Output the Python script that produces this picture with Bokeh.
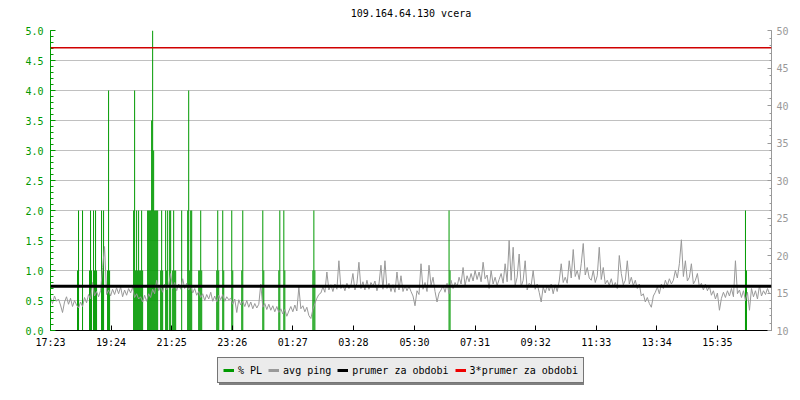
from bokeh.plotting import figure
from bokeh.layouts import column
from bokeh.models import (Range1d, LinearAxis, FixedTicker, Span, Legend, Label,
                          LegendItem, ColumnDataSource, NumeralTickFormatter)
from bokeh.embed import file_html
from bokeh.resources import INLINE

TITLE = "109.164.64.130 vcera"
START_TIME = "17:23"
X_TICK_LABELS = ["17:23", "19:24", "21:25", "23:26", "01:27", "03:28",
                 "05:30", "07:31", "09:32", "11:33", "13:34", "15:35"]
LEGEND_LABELS = ["% PL", "avg ping", "prumer za obdobi", "3*prumer za obdobi"]

# avg ping in ms, one value every 4 minutes from 17:23 (right axis), one row per hour
PING_STEP_MIN = 4
PING_MS = [
    14.4, 13.6, 14.6, 13.9, 14.2, 13.4, 12.4, 13.8, 14.5, 13.5, 14.3, 13.2, 14.0, 13.4, 13.0,
    13.8, 13.2, 14.4, 13.7, 14.8, 14.2, 16.4, 14.6, 15.2, 14.5, 15.3, 18.4, 21.2, 14.8, 15.4,
    14.6, 15.5, 14.8, 15.7, 14.9, 15.8, 14.5, 15.4, 14.7, 15.6, 15.0, 15.8, 14.4, 14.9, 14.2,
    14.5, 13.8, 14.7, 13.9, 14.9, 14.4, 15.5, 14.9, 16.7, 15.3, 15.9, 15.1, 16.2, 15.4, 16.1,
    17.6, 15.6, 16.4, 15.3, 16.2, 15.5, 16.9, 15.6, 16.3, 15.4, 16.0, 15.0, 15.6, 14.7, 15.2,
    14.4, 14.9, 14.0, 14.8, 14.2, 15.1, 13.9, 14.6, 13.8, 14.7, 14.1, 14.8, 13.9, 14.5, 14.1,
    14.3, 13.5, 14.2, 12.4, 14.1, 13.4, 13.9, 13.2, 14.0, 13.1, 13.8, 12.9, 13.6, 13.0, 13.5,
    16.2, 13.1, 13.6, 12.8, 13.5, 12.7, 13.3, 12.5, 13.2, 12.4, 12.9, 12.2, 12.8, 11.9, 12.6,
    13.2, 12.5, 13.4, 12.6, 15.8, 12.9, 13.3, 12.5, 13.1, 12.0, 11.6, 12.8, 13.6, 14.3, 14.8,
    15.0, 15.8, 15.1, 17.8, 15.4, 16.1, 15.2, 16.2, 15.5, 19.3, 15.6, 16.1, 15.3, 16.3, 15.6,
    16.0, 17.6, 15.4, 16.3, 19.1, 15.6, 16.5, 15.4, 16.7, 15.5, 16.4, 15.9, 16.6, 15.3, 16.2,
    18.7, 15.5, 19.3, 15.6, 16.3, 15.2, 16.1, 15.1, 17.8, 15.4, 17.3, 15.2, 16.0, 15.3, 15.9,
    15.2, 14.6, 13.3, 15.3, 14.8, 18.9, 15.5, 16.4, 15.2, 18.7, 16.0, 17.1, 15.2, 13.8, 15.0,
    15.4, 16.0, 15.1, 16.3, 14.9, 16.7, 15.6, 16.4, 15.8, 17.1, 16.2, 18.4, 16.0, 17.3, 16.5,
    17.6, 16.6, 18.0, 16.8, 17.8, 16.5, 19.1, 16.9, 17.4, 15.6, 18.0, 16.2, 17.1, 16.0, 16.8,
    17.6, 16.3, 18.9, 16.5, 22.0, 16.7, 21.1, 16.0, 17.1, 20.2, 15.8, 16.7, 19.3, 15.4, 16.3,
    16.0, 18.0, 15.5, 16.2, 15.1, 13.8, 15.8, 15.0, 16.0, 15.3, 16.2, 14.9, 16.1, 15.2, 16.6,
    18.9, 16.4, 17.1, 16.3, 19.3, 17.0, 20.8, 17.2, 18.0, 16.8, 18.9, 21.6, 17.4, 18.4, 17.0,
    16.7, 18.0, 16.4, 17.3, 21.1, 16.8, 18.4, 16.2, 16.7, 16.0, 16.9, 15.8, 16.4, 15.6, 20.0,
    17.6, 16.1, 16.7, 19.3, 16.2, 17.1, 16.0, 16.7, 15.6, 16.2, 14.6, 14.9, 13.8, 14.4, 13.6,
    13.1, 14.6, 15.1, 15.8, 14.9, 16.2, 15.6, 16.7, 16.0, 16.9, 16.2, 16.7, 18.0, 17.0, 18.9,
    22.1, 17.2, 19.3, 16.6, 17.1, 18.9, 16.2, 16.7, 17.6, 15.8, 16.3, 15.4, 16.2, 15.3, 15.9,
    14.7, 15.3, 14.2, 15.0, 12.7, 14.3, 15.1, 14.4, 15.3, 14.6, 15.6, 14.5, 19.3, 14.9, 15.4,
    14.4, 15.3, 14.0, 15.1, 12.7, 15.6, 14.5, 15.3, 14.2, 16.0, 14.6, 15.3, 14.8, 15.6, 14.9,
]

# packet loss samples: minutes after 17:23 and % PL (left axis)
PL_STEP_MIN = 2
PL_MIN = [54, 56, 64, 78, 80, 82, 86, 88, 90, 92, 102, 104, 106, 114, 116, 118,
          166, 168, 170, 172, 174, 176, 178, 180, 182, 184,
          194, 196, 198, 200, 202, 204, 206, 208, 210, 212, 214,
          220, 222, 224, 230, 232, 234, 238, 240, 244, 246, 248, 250, 262,
          274, 276, 278, 280, 282, 296, 298, 300, 302, 332, 334, 336, 344, 346,
          362, 364, 382, 384, 424, 426, 456, 458, 466, 468, 524, 526, 528,
          796, 798, 1388, 1390]
PL_VAL = [1, 2, 2, 1, 2, 1, 2, 1, 2, 1, 2, 1, 2, 1, 4, 1,
          2, 4, 1, 2, 1, 2, 1, 1, 2, 1,
          2, 2, 2, 2, 3.5, 5, 3, 2, 2, 2, 2,
          1, 2, 1, 2, 1, 2, 2, 2, 1, 2, 1, 1, 2,
          2, 4, 1, 2, 2, 1, 1, 2, 1, 1, 2, 1, 2, 1,
          2, 1, 1, 2, 2, 1, 1, 2, 2, 1, 1, 2, 1,
          2, 1, 2, 1]

PRUMER_MS = 15.9          # mean avg ping over the period
PL_RANGE = (0, 5)
PING_RANGE = (10, 50)
PERIOD_MIN = 1440

GREEN = "#009900"
GRAY = "#999999"
RED = "#d00000"
FONT = "DejaVu Sans Mono"


def to_min(s):
    h, m = map(int, s.split(":"))
    h0, m0 = map(int, START_TIME.split(":"))
    return (h * 60 + m - (h0 * 60 + m0)) % 1440


x_ticks = [to_min(s) for s in X_TICK_LABELS]


def strip(height):
    f = figure(width=792, height=height, output_backend="svg", toolbar_location=None,
               x_range=Range1d(0, 1), y_range=Range1d(0, 1), min_border=0,
               x_axis_type=None, y_axis_type=None,
               background_fill_color="white", border_fill_color="white")
    f.outline_line_color = None
    f.grid.visible = False
    return f


# title strip (its frame is aligned with the chart frame)
tf = strip(20)
tf.add_layout(Label(x=0.5, y=0.35, text=TITLE, text_align="center",
                    text_baseline="middle", text_font=FONT,
                    text_font_size="10px", text_color="black"))

p = figure(frame_width=721, frame_height=300, output_backend="svg",
           toolbar_location=None, x_range=Range1d(0, PERIOD_MIN),
           y_range=Range1d(*PL_RANGE), min_border_left=50,
           min_border_right=21, min_border_top=10, min_border_bottom=24,
           background_fill_color="white", border_fill_color="white")
p.outline_line_color = None
p.extra_y_ranges = {"ping": Range1d(*PING_RANGE)}

# axes
xa = p.xaxis[0]
xa.ticker = FixedTicker(ticks=x_ticks, minor_ticks=[])
xa.major_label_overrides = {t: l for t, l in zip(x_ticks, X_TICK_LABELS)}
xa.major_tick_in = 5
xa.major_tick_out = 0
xa.minor_tick_in = 0
xa.minor_tick_out = 0
xa.axis_line_color = "black"
xa.major_tick_line_color = "black"
xa.major_label_text_font = FONT
xa.major_label_text_font_size = "10px"
xa.major_label_text_color = "black"
xa.major_label_standoff = 6

ya = p.yaxis[0]
ya.ticker = FixedTicker(ticks=[i * 0.5 for i in range(11)],
                        minor_ticks=[i * 0.1 for i in range(51)])
ya.formatter = NumeralTickFormatter(format="0.0")
ya.axis_line_color = GREEN
ya.major_tick_line_color = GREEN
ya.minor_tick_line_color = GREEN
ya.major_label_text_color = GREEN
ya.major_tick_in = 5
ya.major_tick_out = 0
ya.minor_tick_in = 3
ya.minor_tick_out = 0
ya.major_label_text_font = FONT
ya.major_label_text_font_size = "10px"
ya.major_label_standoff = 7

ra = LinearAxis(y_range_name="ping",
                ticker=FixedTicker(ticks=list(range(10, 51, 5)),
                                   minor_ticks=list(range(10, 51))))
ra.axis_line_color = GRAY
ra.major_tick_line_color = GRAY
ra.minor_tick_line_color = GRAY
ra.major_label_text_color = GRAY
ra.major_tick_in = 4
ra.major_tick_out = 0
ra.minor_tick_in = 2
ra.minor_tick_out = 0
ra.major_label_text_font = FONT
ra.major_label_text_font_size = "10px"
ra.major_label_standoff = 5
p.add_layout(ra, "right")

p.xgrid.visible = False
p.ygrid.grid_line_color = "#c0c0c0"
p.ygrid.grid_line_width = 1

# data
pl_src = ColumnDataSource(dict(x=PL_MIN, top=PL_VAL))
p.vbar(x="x", top="top", bottom=0, width=PL_STEP_MIN, source=pl_src,
       fill_color=GREEN, line_color=None)

ping_src = ColumnDataSource(dict(x=[i * PING_STEP_MIN for i in range(len(PING_MS))],
                                 y=PING_MS))
p.line(x="x", y="y", source=ping_src, line_color=GRAY, line_width=1,
       y_range_name="ping")

p.add_layout(Span(location=PRUMER_MS, dimension="width", y_range_name="ping",
                  line_color="black", line_width=3))
p.add_layout(Span(location=3 * PRUMER_MS, dimension="width", y_range_name="ping",
                  line_color=RED, line_width=1.3))

# legend strip below the chart
lf = strip(38)
nan = float("nan")
colors = [GREEN, GRAY, "black", "#ee0000"]
swatches = [lf.line([nan], [nan], line_color=c, line_width=3) for c in colors]
shadow_swatch = lf.line([nan], [nan], line_alpha=0)

LEG_X, LEG_Y = 167, 9
common = dict(orientation="horizontal", glyph_height=14, label_height=14,
              padding=5, margin=0, background_fill_alpha=1.0, border_line_width=1)

shadow = Legend(items=[LegendItem(label=" ", renderers=[shadow_swatch])],
                location=(LEG_X + 2, LEG_Y - 2), glyph_width=333,
                label_standoff=0, label_text_font_size="1px",
                background_fill_color="#808080", border_line_color="#808080",
                **common)
legend = Legend(items=[LegendItem(label=l, renderers=[r])
                       for l, r in zip(LEGEND_LABELS, swatches)],
                location=(LEG_X, LEG_Y), glyph_width=11, label_standoff=4,
                spacing=6, label_text_font=FONT, label_text_font_size="10px",
                label_text_color="black", background_fill_color="#ebebeb",
                border_line_color="black", **common)
lf.add_layout(shadow, "center")
lf.add_layout(legend, "center")

open("out.html", "w").write(file_html(column(tf, p, lf, spacing=0), INLINE))
